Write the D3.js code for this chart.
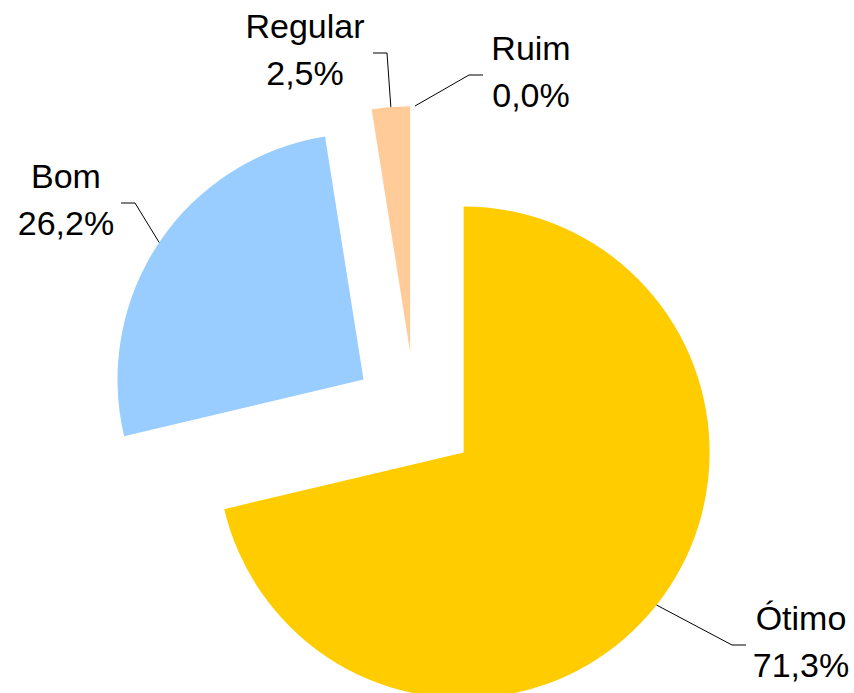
<!DOCTYPE html>
<html>
<head>
<meta charset="utf-8">
<script src="https://cdn.jsdelivr.net/npm/d3@7"></script>
<style>
  body { margin: 0; background: #fff; }
  text { font-family: "Liberation Sans", Arial, sans-serif; font-size: 34px; fill: #000; }
</style>
</head>
<body>
<svg id="chart"></svg>
<script>
// data
const categories = ["Ótimo", "Bom", "Regular", "Ruim"];
const percents = [71.3, 26.2, 2.5, 0.0];
const sliceColors = ["#FFCC00", "#99CCFF", "#FFCC99", "#FF9999"];

// label placement (text centre, first baseline, leader end)
const labelSpots = [
  { x: 801, y: 630, endX: 746, endY: 645, side: 1 },
  { x: 66, y: 188, endX: 121, endY: 203, side: -1 },
  { x: 305, y: 38, endX: 373, endY: 53, side: -1 },
  { x: 531, y: 60, endX: 483, endY: 75, side: 1 }
];

const width = 854;
const height = 693;
const cx = 415, cy = 414;
const radius = 246;
const explode = 62;

const svg = d3.select('#chart')
  .attr('width', width)
  .attr('height', height);

const g = svg.append('g')
  .attr('transform', `translate(${cx}, ${cy})`);

const data = categories.map((c, i) => ({ label: c, value: percents[i], color: sliceColors[i] }));

const pie = d3.pie()
  .value(d => d.value)
  .sort(null);

const arcs = pie(data);

const arcGen = d3.arc()
  .innerRadius(0)
  .outerRadius(radius);

// offset of a slice along its middle angle
function shift(d, dist) {
  const mid = (d.startAngle + d.endAngle) / 2;
  return [Math.sin(mid) * dist, -Math.cos(mid) * dist];
}

g.selectAll('path')
  .data(arcs)
  .enter()
  .append('path')
  .attr('d', arcGen)
  .attr('fill', d => d.data.color)
  .attr('transform', d => {
    const s = shift(d, explode);
    return `translate(${s[0]}, ${s[1]})`;
  });

// leader lines + labels
arcs.forEach((d, i) => {
  const a = shift(d, explode);
  const b = shift(d, radius);
  const x0 = cx + a[0] + b[0];
  const y0 = cy + a[1] + b[1];
  const spot = labelSpots[i];
  const elbowX = spot.endX - spot.side * 14;
  svg.append('polyline')
    .attr('points', `${x0},${y0} ${elbowX},${spot.endY} ${spot.endX},${spot.endY}`)
    .attr('fill', 'none')
    .attr('stroke', '#000')
    .attr('stroke-width', 1);

  const t = svg.append('text')
    .attr('text-anchor', 'middle')
    .attr('x', spot.x)
    .attr('y', spot.y);
  t.append('tspan')
    .attr('x', spot.x)
    .text(d.data.label);
  t.append('tspan')
    .attr('x', spot.x)
    .attr('dy', 47)
    .text(d3.format('.1f')(d.data.value).replace('.', ',') + '%');
});
</script>
</body>
</html>
